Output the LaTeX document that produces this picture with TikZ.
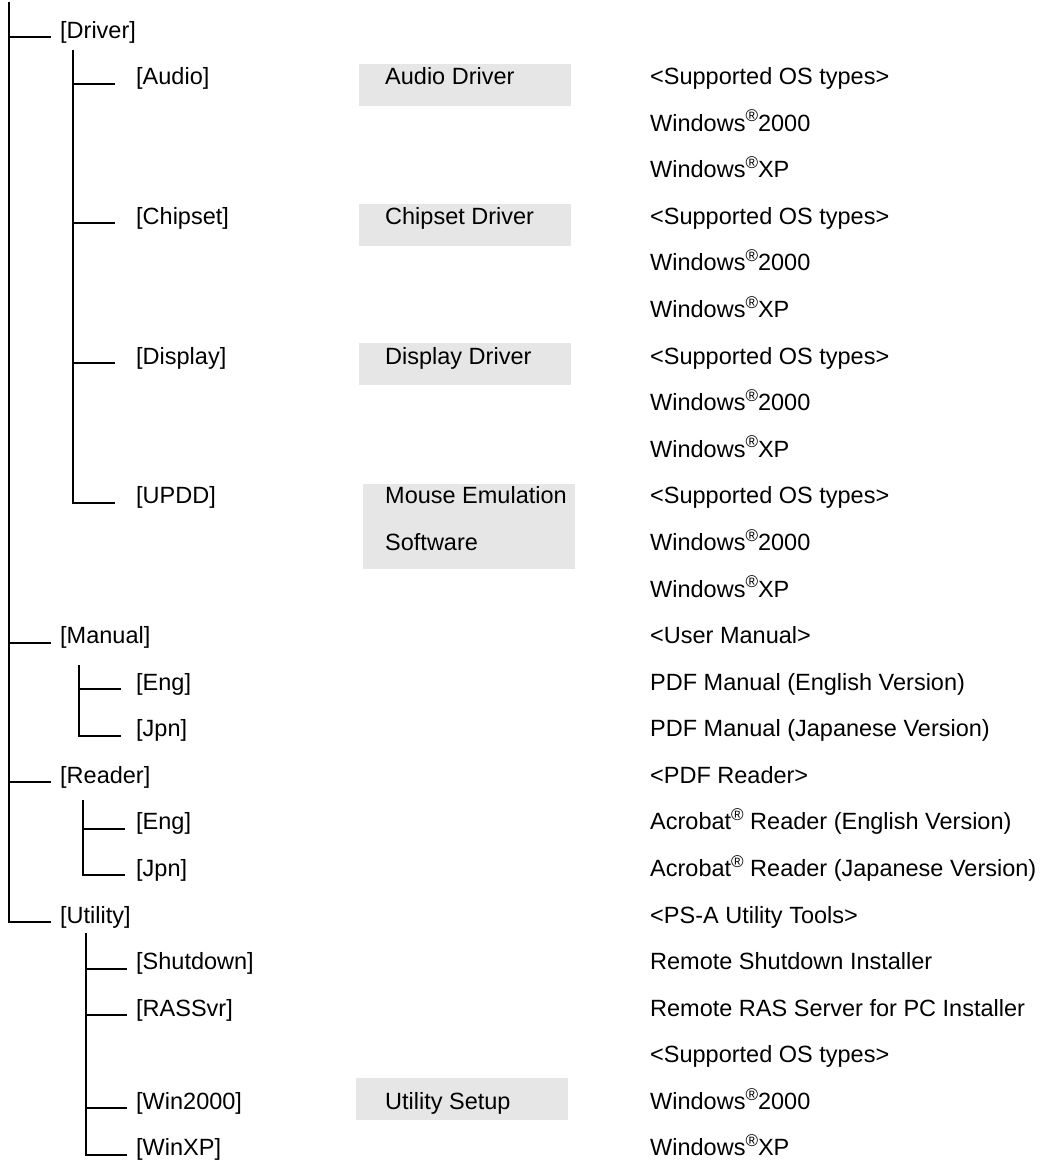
\documentclass[tikz,border=0pt]{standalone}
\usepackage{fontspec}
\setmainfont{Liberation Sans}
\newcommand{\regmark}{\raisebox{0.75ex}{\fontsize{17}{17}\selectfont ®}}
\newcommand{\R}[1]{32+46.58*#1}
\definecolor{boxgray}{HTML}{E6E6E6}
\tikzset{
  lbl/.style={anchor=west, inner sep=0pt, font=\fontsize{23.5}{28}\selectfont, text height=16.8pt, text depth=4.7pt},
  branch/.style={line width=2pt, line join=miter},
  graybox/.style={fill=boxgray, draw=none, anchor=north west, inner sep=0pt},
}
\begin{document}
\begin{tikzpicture}[x=1pt,y=-1pt]
\useasboundingbox (0,0) rectangle (1053,1165);

% grey boxes
\node[graybox, minimum width=212pt, minimum height=42pt] (bAud) at (359,64) {};
\node[graybox, minimum width=212pt, minimum height=42pt] (bChp) at (359,{\R{4}-15}) {};
\node[graybox, minimum width=212pt, minimum height=42pt] (bDsp) at (359,{\R{7}-15}) {};
\node[graybox, minimum width=212pt, minimum height=85pt] (bUpd) at (363,484) {};
\node[graybox, minimum width=212pt, minimum height=42pt] (bUts) at (356,1078) {};

% level 1 labels
\node[lbl] (drv) at (60,{\R{0}}) {[Driver]};
\node[lbl] (man) at (60,{\R{13}}) {[Manual]};
\node[lbl] (rdr) at (60,{\R{16}}) {[Reader]};
\node[lbl] (utl) at (60,{\R{19}}) {[Utility]};

% level 2 labels
\node[lbl] (aud) at (136,{\R{1}}) {[Audio]};
\node[lbl] (chp) at (136,{\R{4}}) {[Chipset]};
\node[lbl] (dsp) at (136,{\R{7}}) {[Display]};
\node[lbl] (upd) at (136,{\R{10}}) {[UPDD]};
\node[lbl] (meng) at (136,{\R{14}}) {[Eng]};
\node[lbl] (mjpn) at (136,{\R{15}}) {[Jpn]};
\node[lbl] (reng) at (136,{\R{17}}) {[Eng]};
\node[lbl] (rjpn) at (136,{\R{18}}) {[Jpn]};
\node[lbl] (shd) at (136,{\R{20}}) {[Shutdown]};
\node[lbl] (ras) at (136,{\R{21}}) {[RASSvr]};
\node[lbl] (w2k) at (136,{\R{23}}) {[Win2000]};
\node[lbl] (wxp) at (136,{\R{24}}) {[WinXP]};

% box texts
\node[lbl] (tAud) at (385,{\R{1}}) {Audio Driver};
\node[lbl] (tChp) at (385,{\R{4}}) {Chipset Driver};
\node[lbl] (tDsp) at (385,{\R{7}}) {Display Driver};
\node[lbl] (tMou) at (385,{\R{10}}) {Mouse Emulation};
\node[lbl] (tSof) at (385,{\R{11}}) {Software};
\node[lbl] (tUts) at (385,{\R{23}}) {Utility Setup};

% right column
\node[lbl] (r1) at (650,{\R{1}}) {<Supported OS types>};
\node[lbl] (r2) at (650,{\R{2}}) {Windows\regmark2000};
\node[lbl] (r3) at (650,{\R{3}}) {Windows\regmark XP};
\node[lbl] (r4) at (650,{\R{4}}) {<Supported OS types>};
\node[lbl] (r5) at (650,{\R{5}}) {Windows\regmark2000};
\node[lbl] (r6) at (650,{\R{6}}) {Windows\regmark XP};
\node[lbl] (r7) at (650,{\R{7}}) {<Supported OS types>};
\node[lbl] (r8) at (650,{\R{8}}) {Windows\regmark2000};
\node[lbl] (r9) at (650,{\R{9}}) {Windows\regmark XP};
\node[lbl] (r10) at (650,{\R{10}}) {<Supported OS types>};
\node[lbl] (r11) at (650,{\R{11}}) {Windows\regmark2000};
\node[lbl] (r12) at (650,{\R{12}}) {Windows\regmark XP};
\node[lbl] (r13) at (650,{\R{13}}) {<User Manual>};
\node[lbl] (r14) at (650,{\R{14}}) {PDF Manual (English Version)};
\node[lbl] (r15) at (650,{\R{15}}) {PDF Manual (Japanese Version)};
\node[lbl] (r16) at (650,{\R{16}}) {<PDF Reader>};
\node[lbl] (r17) at (650,{\R{17}}) {Acrobat\regmark{} Reader (English Version)};
\node[lbl] (r18) at (650,{\R{18}}) {Acrobat\regmark{} Reader (Japanese Version)};
\node[lbl] (r19) at (650,{\R{19}}) {<PS-A Utility Tools>};
\node[lbl] (r20) at (650,{\R{20}}) {Remote Shutdown Installer};
\node[lbl] (r21) at (650,{\R{21}}) {Remote RAS Server for PC Installer};
\node[lbl] (r22) at (650,{\R{22}}) {<Supported OS types>};
\node[lbl] (r23) at (650,{\R{23}}) {Windows\regmark2000};
\node[lbl] (r24) at (650,{\R{24}}) {Windows\regmark XP};

% line end points
\foreach \n in {drv,man,rdr,utl} {\coordinate (\n E) at ([shift={(-9,5)}]\n.west);}
\foreach \n in {aud,chp,dsp,upd} {\coordinate (\n E) at ([shift={(-21,5)}]\n.west);}
\foreach \n in {meng,mjpn} {\coordinate (\n E) at ([shift={(-15,5)}]\n.west);}
\foreach \n in {reng,rjpn} {\coordinate (\n E) at ([shift={(-11,5)}]\n.west);}
\foreach \n in {shd,ras,w2k,wxp} {\coordinate (\n E) at ([shift={(-9,5)}]\n.west);}

% trunk
\coordinate (trunkTop) at (9,2);
\draw[branch] (trunkTop) |- (utlE);
\foreach \n in {drv,man,rdr} {\draw[branch] (trunkTop |- \n E) -- (\n E);}

% Driver sub-tree
\coordinate (dTop) at (73,50);
\draw[branch] (dTop) |- (updE);
\foreach \n in {aud,chp,dsp} {\draw[branch] (dTop |- \n E) -- (\n E);}

% Manual sub-tree
\coordinate (mTop) at (79,665);
\draw[branch] (mTop) |- (mjpnE);
\draw[branch] (mTop |- mengE) -- (mengE);

% Reader sub-tree
\coordinate (rTop) at (83,800);
\draw[branch] (rTop) |- (rjpnE);
\draw[branch] (rTop |- rengE) -- (rengE);

% Utility sub-tree
\coordinate (uTop) at (86,933);
\draw[branch] (uTop) |- (wxpE);
\foreach \n in {shd,ras,w2k} {\draw[branch] (uTop |- \n E) -- (\n E);}
\end{tikzpicture}
\end{document}
